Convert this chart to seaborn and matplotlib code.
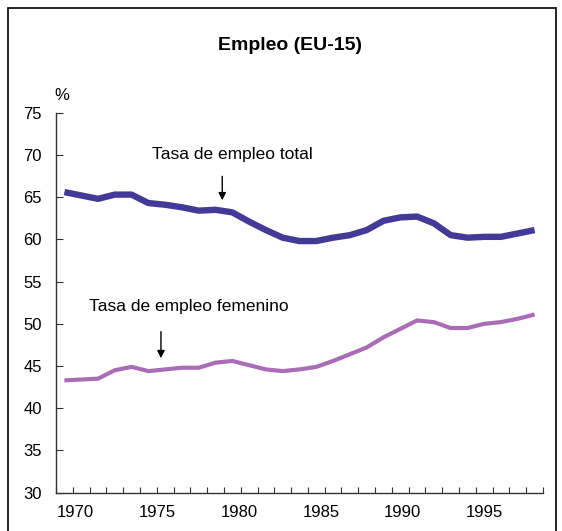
import matplotlib
matplotlib.use("Agg")
import matplotlib.pyplot as plt
import seaborn as sns
import pandas as pd
from matplotlib.patches import Rectangle

# Datos (EU-15, % de empleo)
anos = list(range(1970, 1999))
tasa_total = [65.6, 65.2, 64.8, 65.3, 65.3, 64.3, 64.1, 63.8, 63.4, 63.5,
              63.2, 62.1, 61.1, 60.2, 59.8, 59.8, 60.2, 60.5, 61.1, 62.2,
              62.6, 62.7, 61.9, 60.5, 60.2, 60.3, 60.3, 60.7, 61.1]
tasa_femenina = [43.3, 43.4, 43.5, 44.5, 44.9, 44.4, 44.6, 44.8, 44.8, 45.4,
                 45.6, 45.1, 44.6, 44.4, 44.6, 44.9, 45.6, 46.4, 47.2, 48.4,
                 49.4, 50.4, 50.2, 49.5, 49.5, 50.0, 50.2, 50.6, 51.1]
ticks_y = list(range(30, 80, 5))
ticks_x = list(range(1970, 1999, 5))

sns.set_theme(style="ticks")
plt.rcParams["font.family"] = ["Liberation Sans", "DejaVu Sans"]
plt.rcParams["text.color"] = "black"
plt.rcParams["xtick.labelcolor"] = "black"
plt.rcParams["ytick.labelcolor"] = "black"

df = pd.DataFrame({"ano": anos, "total": tasa_total, "femenino": tasa_femenina})

fig = plt.figure(figsize=(5.62, 5.31), dpi=100)
ax = fig.add_axes([56 / 562, 1 - 492.7 / 531, (543 - 56) / 562, (492.7 - 112.7) / 531])

sns.lineplot(data=df, x="ano", y="total", color="#433a98", lw=4.6,
             solid_capstyle="butt", ax=ax)
sns.lineplot(data=df, x="ano", y="femenino", color="#a96db5", lw=3.0,
             solid_capstyle="butt", ax=ax)

ax.set_xlim(1969.5, 1998.5)
ax.set_ylim(30, 75)
ax.set_yticks(ticks_y)
ax.set_xticks([])
ax.set_xticks([a + 0.5 for a in range(1969, 1999)], minor=True)
ax.tick_params(axis="x", which="minor", direction="in", length=4, width=0.8, color="#333333")
ax.tick_params(axis="y", direction="in", length=5, width=0.8, pad=10, labelsize=12,
               color="#333333")
ax.set_xlabel("")
ax.set_ylabel("")
sns.despine(ax=ax)
for s in ["left", "bottom"]:
    ax.spines[s].set_color("#333333")
    ax.spines[s].set_linewidth(1.0)

# Las etiquetas de años del original van algo más espaciadas que las categorías
def a_etiqueta(d):
    return 1970 + (16.8 * (d - 1970) - 10.6) / 16.4

def a_dato(e):
    return 1970 + (16.4 * (e - 1970) + 10.6) / 16.8

sec = ax.secondary_xaxis("bottom", functions=(a_etiqueta, a_dato))
sec.set_xticks(ticks_x)
sec.tick_params(axis="x", length=0, pad=9, labelsize=12)
sec.spines["bottom"].set_visible(False)

# Anotaciones
ax.text(1980.0, 70.1, "Tasa de empleo total", ha="center", va="center", fontsize=12.5)
ax.annotate("", xy=(1979.4, 64.3), xytext=(1979.4, 67.8),
            arrowprops=dict(arrowstyle="-|>", color="black", lw=1.0, mutation_scale=11))
ax.text(1977.4, 52.1, "Tasa de empleo femenino", ha="center", va="center", fontsize=12.5)
ax.annotate("", xy=(1975.75, 45.6), xytext=(1975.75, 49.4),
            arrowprops=dict(arrowstyle="-|>", color="black", lw=1.0, mutation_scale=11))

fig.text(290 / 562, 1 - 45 / 531, "Empleo (EU-15)", ha="center", va="center",
         fontsize=14, fontweight="bold")
fig.text(62 / 562, 1 - 95 / 531, "%", ha="center", va="center", fontsize=12)

# Marco exterior
fig.patches.append(Rectangle((8 / 562, -0.05), (556 - 8) / 562, 1.05 - 8 / 531,
                             transform=fig.transFigure, fill=False, ec="black", lw=1.2))

fig.savefig("out.png", dpi=100)
